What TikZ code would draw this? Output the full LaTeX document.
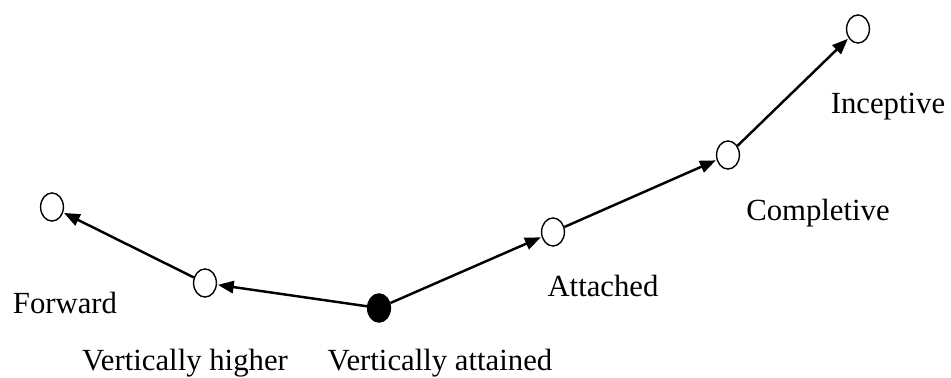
\documentclass[tikz,border=0pt]{standalone}
\usepackage{fontspec}
\setmainfont{Liberation Serif}
\usetikzlibrary{shapes.geometric,arrows.meta}
\begin{document}
\begin{tikzpicture}[x=0.02cm,y=-0.02cm,
  state/.style={ellipse,draw,line width=0.8pt,minimum width=13pt,minimum height=16pt,inner sep=0pt},
  openstate/.style={state,fill=white},
  rootstate/.style={state,fill=black},
  link/.style={line width=1.4pt,-{Triangle[length=9pt,width=7pt]},shorten >=0.5pt},
  lbl/.style={anchor=base,font=\fontsize{17.5pt}{20pt}\selectfont,inner sep=0pt}]
\useasboundingbox (0,0) rectangle (951,378);
% states
\node[openstate] (fwd) at (52,207) {};
\node[openstate] (vh) at (205,283) {};
\node[rootstate] (va) at (379,308) {};
\node[openstate] (att) at (553,232) {};
\node[openstate] (comp) at (728,155) {};
\node[openstate] (inc) at (858,29) {};
% labels
\node[lbl] (lfwd) at (65,314) {Forward};
\node[lbl] (lvh) at (185,371) {Vertically higher};
\node[lbl] (lva) at (440,371) {Vertically attained};
\node[lbl] (latt) at (603,297) {Attached};
\node[lbl] (lcomp) at (818,221) {Completive};
\node[lbl] (linc) at (888,114) {Inceptive};
% transitions
\draw[link] (va) -- (vh);
\draw[link] (vh) -- (fwd);
\draw[link] (va) -- (att);
\draw[link] (att) -- (comp);
\draw[link] (comp) -- (inc);
\end{tikzpicture}
\end{document}
